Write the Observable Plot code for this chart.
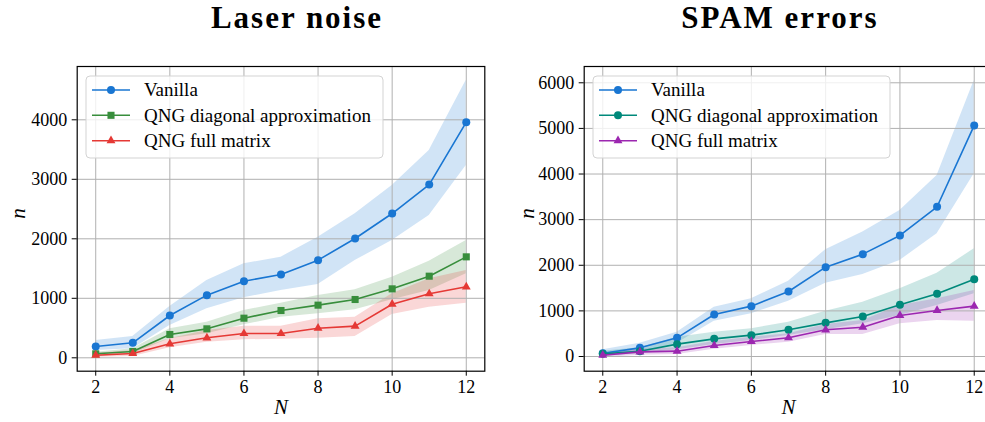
<!DOCTYPE html>
<html><head><meta charset="utf-8">
<script src="https://cdn.jsdelivr.net/npm/d3@7"></script>
<script src="https://cdn.jsdelivr.net/npm/@observablehq/plot@0.6"></script>
<style>
body{margin:0;background:#fff;}
#wrap{position:relative;width:985px;height:422px;overflow:hidden;font-family:"Liberation Serif",serif;background:#fff;}
.panel{position:absolute;top:0;}
.panel text{font-family:"Liberation Serif",serif !important;font-variant:normal !important;}
.title{position:absolute;top:2.3px;font-weight:bold;font-size:31px;letter-spacing:2px;white-space:nowrap;transform:translateX(-50%);line-height:1;color:#000;}
.legend{position:absolute;top:76px;}
</style>
</head><body>
<div id="wrap">
  <div class="title" style="left:297px">Laser noise</div>
  <div class="title" style="left:780px">SPAM errors</div>
</div>
<script>
// ---- data ----
const Ns = [2, 3, 4, 5, 6, 7, 8, 9, 10, 11, 12];
const xTicks = [2, 4, 6, 8, 10, 12];
const seriesNames = ["Vanilla", "QNG diagonal approximation", "QNG full matrix"];

// Laser noise
const laserVanilla   = [190, 252, 711, 1053, 1288, 1400, 1641, 2005, 2425, 2912, 3960];
const laserVanillaLo = [123, 151, 543, 823, 1008, 1131, 1232, 1635, 1971, 2392, 3232];
const laserVanillaHi = [291, 358, 862, 1299, 1580, 1691, 2027, 2420, 2896, 3484, 4663];
const laserDiag      = [67, 106, 392, 487, 666, 795, 885, 980, 1159, 1372, 1697];
const laserDiagLo    = [22, 67, 319, 403, 554, 683, 739, 806, 975, 1131, 1412];
const laserDiagHi    = [95, 151, 487, 599, 795, 918, 1047, 1143, 1355, 1624, 1971];
const laserFull      = [44, 72, 235, 336, 408, 408, 498, 532, 901, 1076, 1193];
const laserFullLo    = [8, 22, 168, 263, 302, 313, 330, 358, 728, 851, 918];
const laserFullHi    = [78, 123, 319, 459, 532, 532, 655, 683, 1076, 1328, 1467];
const laserYTicks    = [0, 1000, 2000, 3000, 4000];

// SPAM errors
const spamVanilla   = [73, 190, 410, 921, 1104, 1425, 1959, 2244, 2653, 3282, 5066];
const spamVanillaLo = [0, 95, 292, 775, 936, 1213, 1608, 1798, 2105, 2690, 4006];
const spamVanillaHi = [146, 292, 534, 1082, 1265, 1652, 2339, 2727, 3202, 3969, 6050];
const spamDiag      = [58, 117, 271, 387, 468, 585, 738, 877, 1133, 1374, 1696];
const spamDiagLo    = [0, 58, 146, 263, 351, 461, 585, 716, 899, 1118, 1374];
const spamDiagHi    = [117, 190, 424, 534, 607, 753, 994, 1191, 1484, 1827, 2361];
const spamFull      = [29, 102, 117, 241, 329, 410, 585, 643, 899, 1009, 1104];
const spamFullLo    = [-19, 29, 44, 161, 241, 314, 482, 482, 716, 789, 775];
const spamFullHi    = [73, 161, 190, 329, 424, 497, 702, 789, 1118, 1265, 1447];
const spamYTicks    = [0, 1000, 2000, 3000, 4000, 5000, 6000];

const laserColors  = ["#1976D2", "#388E3C", "#E53935"];
const spamColors   = ["#1976D2", "#00897B", "#9C27B0"];
const laserSymbols = ["circle", "square", "triangle"];
const spamSymbols  = ["circle", "circle", "triangle"];

// ---- drawing ----
const FONT = "Liberation Serif";
const symR = {circle: 4, square: 4, triangle: 3.3};

function rows(y, lo, hi) {
  return Ns.map((n, i) => ({N: n, y: y[i], lo: lo[i], hi: hi[i]}));
}

function panel(opts) {
  const {left, width, marginLeft, marginRight, yDomain, yTicks, series, ylabDx} = opts;
  const marks = [];
  series.forEach(s => marks.push(Plot.areaY(s.data, {x: "N", y1: "lo", y2: "hi", fill: s.color, fillOpacity: 0.2})));
  marks.push(Plot.gridX(xTicks, {stroke: "#b0b0b0", strokeOpacity: 1, strokeWidth: 1}));
  marks.push(Plot.gridY(yTicks, {stroke: "#b0b0b0", strokeOpacity: 1, strokeWidth: 1}));
  series.forEach(s => {
    marks.push(Plot.lineY(s.data, {x: "N", y: "y", stroke: s.color, strokeWidth: 1.6}));
    marks.push(Plot.dot(s.data, {x: "N", y: "y", fill: s.color, stroke: "none", symbol: () => s.symbol, r: symR[s.symbol]}));
  });
  marks.push(Plot.frame({stroke: "#000", strokeWidth: 1.2}));
  marks.push(Plot.axisX(xTicks, {tickSize: 5, tickPadding: 4, fontSize: 18, fontFamily: FONT, tickFormat: d => String(d), label: null, stroke: "#000"}));
  marks.push(Plot.axisY(yTicks, {tickSize: 5, tickPadding: 5, fontSize: 18, fontFamily: FONT, tickFormat: d => String(d), label: null, stroke: "#000"}));
  marks.push(Plot.text(["N"], {text: d => d, frameAnchor: "bottom", dy: 43, fontStyle: "italic", fontSize: 21, fontFamily: FONT}));
  marks.push(Plot.text(["n"], {text: d => d, frameAnchor: "left", dx: ylabDx, rotate: -90, fontStyle: "italic", fontSize: 21, fontFamily: FONT}));
  const svg = Plot.plot({
    width, height: 422,
    marginLeft, marginRight, marginTop: 66, marginBottom: 51.3,
    style: {fontFamily: FONT, fontSize: "18px", background: "transparent", color: "#000"},
    x: {domain: [1.5, 12.5]},
    y: {domain: yDomain},
    marks
  });
  svg.classList.add("panel");
  svg.setAttribute("font-family", FONT);
  svg.querySelectorAll("g, text").forEach(el => {
    el.style.fontFamily = "'Liberation Serif', serif";
    el.style.fontVariant = "normal";
  });
  svg.style.left = left + "px";
  svg.style.position = "absolute";
  svg.style.maxWidth = "none";
  document.getElementById("wrap").appendChild(svg);
}

function legend(left, series) {
  const w = 297, h = 82;
  const svg = d3.create("svg").attr("width", w + 2).attr("height", h + 2)
    .attr("class", "legend").style("left", (left - 1) + "px").style("top", "75px").style("position", "absolute");
  svg.append("rect").attr("x", 1).attr("y", 1).attr("width", w).attr("height", h).attr("rx", 4)
    .attr("fill", "rgba(255,255,255,0.8)").attr("stroke", "#d3d3d3").attr("stroke-width", 1);
  const ys = [15, 40.3, 65.7];
  series.forEach((s, i) => {
    const y = ys[i];
    svg.append("line").attr("x1", 7).attr("x2", 45).attr("y1", y).attr("y2", y)
      .attr("stroke", s.color).attr("stroke-width", 1.6);
    const r = symR[s.symbol];
    const type = s.symbol === "circle" ? d3.symbolCircle : s.symbol === "square" ? d3.symbolSquare : d3.symbolTriangle;
    svg.append("path").attr("d", d3.symbol(type, Math.PI * r * r)()).attr("transform", `translate(26,${y})`).attr("fill", s.color);
    svg.append("text").attr("x", 59).attr("y", y + 6.2).text(s.name)
      .attr("font-family", FONT).attr("font-size", 19).attr("fill", "#000");
  });
  document.getElementById("wrap").appendChild(svg.node());
}

const laserSeries = [
  {name: seriesNames[0], color: laserColors[0], symbol: laserSymbols[0], data: rows(laserVanilla, laserVanillaLo, laserVanillaHi)},
  {name: seriesNames[1], color: laserColors[1], symbol: laserSymbols[1], data: rows(laserDiag, laserDiagLo, laserDiagHi)},
  {name: seriesNames[2], color: laserColors[2], symbol: laserSymbols[2], data: rows(laserFull, laserFullLo, laserFullHi)}
];
const spamSeries = [
  {name: seriesNames[0], color: spamColors[0], symbol: spamSymbols[0], data: rows(spamVanilla, spamVanillaLo, spamVanillaHi)},
  {name: seriesNames[1], color: spamColors[1], symbol: spamSymbols[1], data: rows(spamDiag, spamDiagLo, spamDiagHi)},
  {name: seriesNames[2], color: spamColors[2], symbol: spamSymbols[2], data: rows(spamFull, spamFullLo, spamFullHi)}
];

panel({left: 0, width: 492, marginLeft: 76.7, marginRight: 7.7, yDomain: [-225, 4896], yTicks: laserYTicks, series: laserSeries, ylabDx: -58.5});
panel({left: 492, width: 501, marginLeft: 91.7, marginRight: 0.7, yDomain: [-322, 6357], yTicks: spamYTicks, series: spamSeries, ylabDx: -57});
legend(86, laserSeries);
legend(593, spamSeries);
</script>
</body></html>
